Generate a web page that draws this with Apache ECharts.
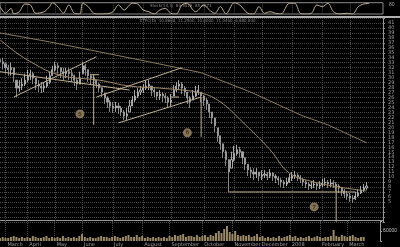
<!DOCTYPE html>
<html><head><meta charset="utf-8">
<script src="https://cdn.jsdelivr.net/npm/echarts@6/dist/echarts.min.js"></script>
<style>html,body{margin:0;padding:0;background:#000}#c{width:400px;height:247px}</style>
</head><body><div id="c"></div>
<script>
// ---- data ----
const N = 140; // category slots (trading-day pairs), last ones empty
const monthTicks = {2:'March',10:'April',20:'May',30:'June',41:'July',52:'August',62:'September',74:'October',85:'November',95:'December',106:'2008',117:'February',127:'March'};
const categories = Array.from({length: N}, (_, i) => 'd' + i);

const opens = [33.6,33.2,32.8,32.0,31.6,32.0,29.5,27.9,28.3,28.7,29.5,30.4,30.8,29.9,28.7,28.3,27.9,28.3,29.1,30.4,
31.6,32.4,32.0,31.2,30.8,31.2,30.8,30.4,29.5,28.7,30.8,32.4,31.6,30.4,29.9,29.5,28.7,27.9,26.9,25.9,
25.1,24.3,23.9,24.3,23.9,23.1,22.3,23.1,24.3,25.5,26.3,27.1,27.5,27.9,28.3,28.3,27.5,27.1,26.3,26.7,
26.3,25.9,25.1,26.3,27.5,28.3,28.7,27.9,27.1,25.9,25.5,26.3,27.1,27.1,26.3,25.5,24.7,23.1,21.9,19.9,
18.3,16.7,15.1,13.5,11.8,13.5,14.7,15.5,15.1,13.9,12.6,11.4,11.0,10.6,11.0,10.2,10.4,10.6,10.2,10.8,
10.2,9.8,9.4,9.0,8.6,9.0,9.8,10.2,10.4,10.0,9.6,9.0,8.6,8.2,8.4,8.6,8.2,8.4,8.8,9.0,
8.6,8.8,8.6,8.2,7.8,7.2,6.6,6.2,5.8,5.6,6.2,6.8,7.4,7.8];
const closes = [33.2,32.8,32.0,31.6,32.0,30.6,27.9,28.3,28.7,29.5,30.4,30.8,29.9,28.7,28.3,27.9,28.3,29.1,30.4,31.6,
32.4,32.0,31.2,30.8,31.2,30.8,30.4,29.5,28.7,29.9,32.4,31.6,30.4,29.9,29.5,28.7,27.9,27.1,25.9,25.1,
24.3,23.9,24.3,23.9,23.1,22.3,22.7,24.3,25.5,26.3,27.1,27.5,27.9,28.3,28.7,27.5,27.1,26.3,26.7,26.3,
25.9,25.1,25.5,27.5,28.3,28.7,27.9,27.1,25.9,25.1,26.3,27.1,27.5,26.3,25.5,24.7,23.1,21.9,20.3,18.3,
16.7,15.1,13.5,11.0,13.5,14.7,15.5,15.1,13.9,12.6,11.4,11.0,10.6,11.0,10.2,10.4,10.6,10.2,10.8,10.2,
9.8,9.4,9.0,8.6,9.0,9.8,10.2,10.4,10.0,9.6,9.0,8.6,8.2,8.4,8.6,8.2,8.4,8.8,9.0,8.6,
8.8,8.6,8.2,7.8,7.2,6.6,6.2,5.8,5.6,6.2,6.8,7.4,7.8,8.2];
const lows = [31.6,31.6,30.8,30.4,30.4,29.1,26.1,27.1,27.5,28.3,29.1,29.5,28.7,27.5,27.1,26.9,27.1,27.9,28.7,30.4,
31.2,30.8,29.9,29.5,29.9,29.5,29.1,28.3,27.5,28.7,30.8,30.4,29.1,28.7,28.5,27.9,27.1,26.1,24.7,23.9,
23.1,22.9,23.1,22.7,22.3,21.5,21.5,23.1,24.3,25.1,25.9,26.5,26.9,27.5,27.5,26.3,26.1,25.5,25.5,25.1,
24.9,23.9,24.3,26.3,27.1,27.5,26.7,26.3,24.7,23.9,25.5,26.1,26.5,25.1,24.3,23.5,21.9,20.7,19.1,17.1,
15.5,13.9,12.2,7.0,11.8,13.1,14.3,13.9,12.6,11.4,10.2,9.8,9.4,9.8,9.2,9.4,9.8,9.4,9.8,9.2,
8.8,8.4,8.0,7.8,8.2,8.8,9.2,9.6,9.2,8.8,8.2,7.8,7.4,7.6,7.8,7.4,7.6,8.0,8.2,7.8,
8.0,7.8,7.2,6.8,6.2,5.8,5.4,5.0,4.8,5.4,6.0,6.6,7.0,7.4];
const highs = [34.6,34.0,33.0,32.6,33.0,32.0,29.5,29.5,29.9,30.8,31.6,31.6,31.2,29.9,29.5,29.1,29.1,30.4,31.2,32.4,
33.2,33.0,32.0,32.0,32.0,32.0,31.6,30.6,29.9,31.2,33.2,32.8,31.6,30.8,30.6,29.5,28.9,28.1,26.9,26.3,
25.5,25.1,25.1,24.9,24.3,23.5,23.9,25.5,26.3,27.5,27.9,28.3,28.7,29.5,29.5,28.3,28.1,27.1,27.5,27.1,
26.9,26.3,26.7,28.5,29.1,29.5,29.1,28.3,27.1,26.3,27.5,28.3,28.5,27.1,26.5,25.9,24.7,23.1,21.9,19.9,
18.3,16.7,15.5,13.5,15.1,16.3,16.5,16.1,15.1,13.9,12.6,12.0,11.8,11.8,11.0,11.4,11.4,11.0,11.6,11.0,
10.6,10.2,9.8,9.4,9.8,10.6,11.0,11.2,10.8,10.4,9.8,9.4,9.0,9.2,9.4,9.0,9.2,9.6,9.8,9.4,
9.6,9.4,9.0,8.6,8.0,7.6,7.2,6.8,6.4,7.0,7.6,8.2,8.6,9.0];
const volumes = [18000,24000,18000,18000,24000,30000,24000,18000,24000,18000,
24000,18000,30000,24000,18000,18000,24000,30000,18000,24000,
18000,24000,18000,30000,18000,24000,18000,24000,18000,30000,
42000,24000,18000,24000,18000,18000,24000,30000,24000,24000,
18000,24000,30000,24000,18000,24000,30000,36000,24000,24000,
36000,24000,30000,18000,24000,18000,24000,18000,24000,18000,
24000,18000,30000,24000,36000,30000,36000,42000,24000,30000,
30000,24000,36000,24000,30000,36000,24000,36000,30000,48000,
60000,48000,72000,90000,54000,42000,60000,36000,30000,36000,
30000,36000,24000,30000,42000,24000,30000,18000,24000,18000,
24000,18000,30000,18000,24000,30000,36000,24000,30000,18000,
24000,18000,24000,30000,18000,24000,30000,24000,18000,24000,
24000,30000,66000,30000,24000,36000,30000,24000,30000,36000,
24000,18000,24000,24000];
// moving averages as [slot, value]
const ma200 = [[0,39.0],[18,37.2],[36,35.2],[54,33.2],[73,31.0],[91,27.1],[109,22.5],[119,20.5],[133,16.9]];
const ma50 = [[0,37.6],[7,34.6],[13,32.6],[18,31.2],[25,30.1],[36,29.5],[47,28.3],[58,27.9],[73,26.9],[80,25.1],[88,21.1],[98,15.5],[105,10.8],[114,9.0],[123,8.0],[133,7.2]];
// oscillator (0-100) as [slot, value]
const osc = [[0,65],[2,6],[4,50],[5,0],[7,20],[9,88],[11,80],[13,6],[16,20],[18,65],[19,100],[21,65],[23,6],[25,80],[27,6],[29,0],[30,95],[32,65],[34,6],[36,0],[39,3],[41,20],[43,80],[45,35],[48,95],[50,88],[52,35],[54,20],[56,0],[58,35],[60,50],[62,6],[64,0],[66,80],[68,95],[70,35],[71,20],[74,80],[76,35],[78,6],[80,65],[82,0],[85,100],[87,80],[90,6],[92,0],[94,65],[96,6],[98,20],[100,6],[102,0],[105,95],[107,95],[109,6],[111,0],[113,6],[115,80],[117,65],[119,95],[121,20],[123,0],[126,6],[128,0],[130,65],[132,88],[134,95]];
// annotation lines, each a list of [slot, value]
const trendLines = [
  [[4.7,26.1],[35.2,34.2]],
  [[0,31.2],[47.2,27.5]],
  [[35.2,26.1],[66.4,32.0]],
  [[42.5,20.9],[72.6,26.1]],
  [[32.7,30.6],[36.3,30.6]],
  [[61.7,26.1],[65.3,26.1]],
  [[82.8,7.0],[128.9,7.0]],
  [[33.8,30.6],[33.8,20.5]],
  [[72.6,26.1],[72.6,18.1]],
  [[122.3,8.0],[122.3,1.0]]
];
const waveMarks = [[28.7,22.7,'5'],[68.2,18.9,'6'],[114,4.0,'7']];
const oscTitle = 'Stoch(14,3)  80.9019, 85.0673';
const priceTitle = 'ETFC(D)  10.8600, 11.2500, 10.8000, 11.0400, 6,880,000';

// ---- chart ----
const chart = echarts.init(document.getElementById('c'), null, {renderer: 'canvas'});
const isTick = i => monthTicks[i] !== undefined;
const gridCol = '#4a4a4a';
const xBase = (gi, showLabel) => ({
  type: 'category', gridIndex: gi, data: categories, boundaryGap: false,
  axisLine: {show: false}, axisTick: {show: false},
  axisLabel: showLabel ? {show: true, interval: (i) => isTick(i), formatter: (v, i) => monthTicks[i] || '',
    color: '#a0a0a0', fontSize: 5, align: 'left', margin: 1, padding: [0,0,0,2], fontFamily: 'DejaVu Sans'} : {show: false},
  splitLine: {show: true, interval: (i) => isTick(i), lineStyle: {color: gridCol, type: [1,1], width: 1}}
});
const candleData = opens.map((o, i) => [o, closes[i], lows[i], highs[i]]);
const series = [
  {type: 'line', xAxisIndex: 0, yAxisIndex: 0, data: osc, symbol: 'none', smooth: 0.3,
   lineStyle: {color: '#c0b090', width: 1}},
  {type: 'candlestick', xAxisIndex: 1, yAxisIndex: 1, data: candleData, barWidth: 1.6,
   itemStyle: {color: '#000', color0: '#a8a8a8', borderColor: '#d0d0d0', borderColor0: '#a8a8a8', borderWidth: 0.8}},
  {type: 'line', xAxisIndex: 1, yAxisIndex: 1, data: ma200, symbol: 'none', lineStyle: {color: '#8c7a5c', width: 1}},
  {type: 'line', xAxisIndex: 1, yAxisIndex: 1, data: ma50, symbol: 'none', smooth: 0.4, lineStyle: {color: '#a08c68', width: 1}},
  {type: 'bar', xAxisIndex: 2, yAxisIndex: 2, data: volumes, barWidth: 2, itemStyle: {color: '#9c8a66'}}
];
trendLines.forEach(t => series.push({type: 'line', xAxisIndex: 1, yAxisIndex: 1, data: t, symbol: 'none',
  lineStyle: {color: '#c0b090', width: 1}, z: 3}));
series.push({type: 'scatter', xAxisIndex: 1, yAxisIndex: 1, data: waveMarks.map(w => [w[0], w[1], w[2]]),
  symbol: 'circle', symbolSize: 9, itemStyle: {color: '#a58d66'}, z: 5,
  label: {show: true, position: 'inside', formatter: p => p.data[2], color: '#2a2010', fontSize: 6, fontWeight: 'bold'}});

chart.setOption({
  backgroundColor: '#000',
  animation: false,
  grid: [
    {left: 0, right: 17, top: 2.7, height: 11.3, show: true, borderColor: '#8a8a8a', borderWidth: 1},
    {left: 0, right: 17, top: 18, height: 203.8},
    {left: 0, right: 17, top: 221, height: 20}
  ],
  xAxis: [xBase(0, false), xBase(1, false), xBase(2, true)],
  yAxis: [
    {type: 'value', gridIndex: 0, min: 0, max: 100, interval: 80, position: 'right',
     axisLine: {show: false}, axisTick: {show: false}, splitLine: {show: false},
     axisLabel: {formatter: v => v === 80 ? '80' : '', color: '#a0a0a0', fontSize: 5, margin: 6}},
    {type: 'value', gridIndex: 1, min: 1, max: 42, interval: 1, position: 'right',
     axisLine: {show: true, lineStyle: {color: '#9a9a9a'}},
     axisTick: {show: true, length: 2, lineStyle: {color: '#8a8a8a'}},
     axisLabel: {formatter: v => (v >= 5 && v <= 41) ? String(v) : '', color: '#a0a0a0', fontSize: 5, margin: 5, fontFamily: 'DejaVu Sans'},
     splitLine: {show: true, lineStyle: {color: gridCol, type: [1,1], width: 1}}},
    {type: 'value', gridIndex: 2, min: 0, max: 120000, interval: 60000, position: 'right',
     axisLine: {show: true, lineStyle: {color: '#9a9a9a'}}, axisTick: {show: true, length: 2},
     axisLabel: {formatter: v => v === 60000 ? '60000' : '', color: '#c0c0c0', fontSize: 5, margin: 3},
     splitLine: {show: false}}
  ],
  graphic: [
    {type: 'rect', shape: {x: 0, y: 16, width: 400, height: 2}, style: {fill: '#b0b0b0'}, silent: true},
    {type: 'rect', shape: {x: 0, y: 220, width: 383, height: 1}, style: {fill: '#9a9a9a'}, silent: true},
    {type: 'text', left: 150, top: 4, style: {text: oscTitle, fill: '#8a8a8a', fontSize: 4, fontFamily: 'DejaVu Sans'}},
    {type: 'text', left: 140, top: 19, style: {text: priceTitle, fill: '#8a8a8a', fontSize: 4, fontFamily: 'DejaVu Sans'}}
  ],
  series: series
});
</script></body></html>
